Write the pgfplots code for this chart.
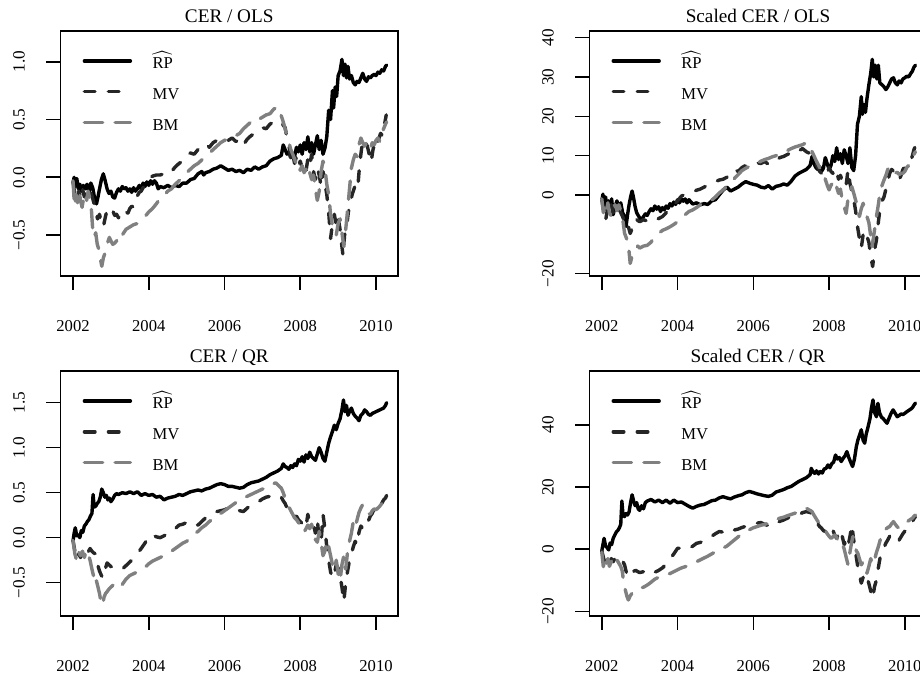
\documentclass[border=0pt]{standalone}
\usepackage{fontspec}
\setmainfont{Liberation Serif}
\setmathrm{Liberation Serif}
\usepackage{pgfplots}
\pgfplotsset{compat=1.18}
\definecolor{mvc}{gray}{0.15}
\definecolor{bmc}{gray}{0.5}
\pgfplotsset{
  panel/.style={
    scale only axis, width=168.75pt, height=122.5pt,
    xmin=2001.67, xmax=2010.58,
    xtick={2002,2004,2006,2008,2010},
    xticklabels={2002,2004,2006,2008,2010},
    xtick pos=bottom, ytick pos=left,
    tick align=outside, major tick length=7pt,
    axis line style={line width=0.8pt},
    tick style={black, line width=0.8pt},
    xticklabel style={font=\fontsize{8.3}{10}\selectfont, anchor=base},
    xticklabel shift=20.9pt,
    yticklabel style={font=\fontsize{8.6}{10}\selectfont, rotate=90, anchor=base},
    yticklabel shift=10.9pt,
    title style={font=\fontsize{9.6}{11}\selectfont, at={(0.5,1)}, anchor=base, yshift=-1.8pt},
    legend style={at={(0.0658,0.9155)}, anchor=north west, draw=none, fill=none,
      inner sep=0pt, outer sep=0pt, column sep=10.2pt, row sep=6.1pt,
      font=\fontsize{8.3}{10}\selectfont,
      nodes={inner sep=0pt, text height=8.5pt, text depth=0.8pt}},
    legend cell align=left,
    legend image code/.code={\draw[##1] (0pt,0pt) -- (23pt,0pt);},
  },
  rp/.style={black, line width=1.7pt, line join=round, line cap=round},
  mv/.style={mvc, line width=1.7pt, line join=round, line cap=round, dash pattern=on 5.3pt off 6.7pt},
  bm/.style={bmc, line width=1.7pt, line join=round, line cap=round, dash pattern=on 9.15pt off 6.2pt},
}
\begin{document}
\begin{tikzpicture}
% ---------------- Panel 1: CER / OLS ----------------
\begin{axis}[panel, at={(30.25pt,201pt)}, anchor=south west,
  title={CER / OLS}, ymin=-0.854, ymax=1.266,
  ytick={-0.5,0,0.5,1}, yticklabels={−0.5,0.0,0.5,1.0}]
\addplot[rp] coordinates {(2002.00,-0.05) (2002.03,0.00) (2002.06,-0.08) (2002.10,-0.01) (2002.14,-0.10) (2002.18,-0.06) (2002.22,-0.12) (2002.27,-0.07) (2002.32,-0.10) (2002.37,-0.06) (2002.42,-0.13) (2002.47,-0.05) (2002.52,-0.09) (2002.57,-0.18) (2002.62,-0.23) (2002.66,-0.17) (2002.70,-0.10) (2002.75,-0.02) (2002.80,0.03) (2002.85,-0.03) (2002.90,-0.10) (2002.95,-0.14) (2003.00,-0.12) (2003.05,-0.17) (2003.10,-0.18) (2003.15,-0.13) (2003.20,-0.10) (2003.25,-0.12) (2003.30,-0.08) (2003.35,-0.10) (2003.40,-0.09) (2003.45,-0.12) (2003.50,-0.10) (2003.55,-0.13) (2003.60,-0.09) (2003.65,-0.12) (2003.70,-0.10) (2003.75,-0.07) (2003.80,-0.10) (2003.85,-0.05) (2003.90,-0.08) (2003.95,-0.04) (2004.00,-0.07) (2004.05,-0.03) (2004.10,-0.06) (2004.15,-0.03) (2004.20,-0.05) (2004.25,-0.10) (2004.30,-0.08) (2004.40,-0.09) (2004.50,-0.07) (2004.60,-0.09) (2004.70,-0.07) (2004.80,-0.08) (2004.90,-0.05) (2005.00,-0.05) (2005.10,-0.02) (2005.20,-0.01) (2005.30,0.03) (2005.40,0.05) (2005.45,0.02) (2005.50,0.04) (2005.60,0.05) (2005.70,0.07) (2005.80,0.08) (2005.90,0.10) (2006.00,0.08) (2006.10,0.06) (2006.20,0.07) (2006.30,0.05) (2006.40,0.06) (2006.50,0.04) (2006.60,0.07) (2006.70,0.06) (2006.80,0.09) (2006.90,0.07) (2007.00,0.09) (2007.10,0.10) (2007.20,0.14) (2007.30,0.16) (2007.40,0.17) (2007.50,0.19) (2007.55,0.28) (2007.60,0.24) (2007.65,0.20) (2007.70,0.22) (2007.75,0.17) (2007.80,0.21) (2007.85,0.18) (2007.90,0.26) (2007.95,0.22) (2008.00,0.28) (2008.05,0.20) (2008.10,0.30) (2008.15,0.24) (2008.20,0.35) (2008.25,0.22) (2008.30,0.30) (2008.35,0.20) (2008.40,0.28) (2008.45,0.36) (2008.50,0.24) (2008.55,0.32) (2008.60,0.20) (2008.65,0.25) (2008.70,0.35) (2008.75,0.58) (2008.80,0.50) (2008.85,0.75) (2008.88,0.60) (2008.92,0.78) (2008.96,0.70) (2009.00,0.88) (2009.05,0.92) (2009.10,1.02) (2009.14,0.88) (2009.18,0.98) (2009.22,0.86) (2009.26,0.96) (2009.30,0.85) (2009.35,0.88) (2009.40,0.82) (2009.45,0.80) (2009.50,0.83) (2009.55,0.82) (2009.60,0.86) (2009.65,0.90) (2009.70,0.85) (2009.75,0.83) (2009.80,0.87) (2009.85,0.86) (2009.90,0.88) (2009.95,0.89) (2010.00,0.88) (2010.05,0.91) (2010.10,0.90) (2010.15,0.93) (2010.20,0.92) (2010.25,0.96) (2010.28,0.97)};
\addplot[mv] coordinates {(2002.00,-0.04) (2002.05,-0.15) (2002.10,-0.21) (2002.15,-0.12) (2002.20,-0.18) (2002.25,-0.10) (2002.30,-0.17) (2002.35,-0.12) (2002.40,-0.14) (2002.45,-0.11) (2002.50,-0.16) (2002.55,-0.22) (2002.60,-0.30) (2002.65,-0.36) (2002.70,-0.32) (2002.75,-0.40) (2002.80,-0.43) (2002.85,-0.35) (2002.90,-0.28) (2002.95,-0.30) (2003.00,-0.31) (2003.05,-0.29) (2003.10,-0.33) (2003.15,-0.32) (2003.20,-0.35) (2003.25,-0.34) (2003.30,-0.36) (2003.35,-0.32) (2003.40,-0.30) (2003.45,-0.31) (2003.50,-0.27) (2003.55,-0.25) (2003.60,-0.26) (2003.65,-0.20) (2003.70,-0.16) (2003.75,-0.13) (2003.80,-0.12) (2003.85,-0.09) (2003.90,-0.07) (2003.95,-0.05) (2004.00,-0.02) (2004.10,0.01) (2004.20,0.02) (2004.30,0.02) (2004.40,0.03) (2004.50,0.06) (2004.60,0.05) (2004.70,0.09) (2004.80,0.12) (2004.90,0.14) (2005.00,0.19) (2005.10,0.21) (2005.20,0.20) (2005.30,0.24) (2005.40,0.27) (2005.50,0.29) (2005.60,0.26) (2005.70,0.30) (2005.80,0.32) (2005.90,0.31) (2006.00,0.33) (2006.10,0.32) (2006.20,0.34) (2006.30,0.31) (2006.40,0.33) (2006.50,0.28) (2006.60,0.33) (2006.70,0.36) (2006.80,0.38) (2006.90,0.40) (2007.00,0.43) (2007.10,0.42) (2007.20,0.46) (2007.30,0.48) (2007.40,0.47) (2007.50,0.48) (2007.55,0.45) (2007.60,0.43) (2007.65,0.34) (2007.70,0.28) (2007.75,0.15) (2007.80,0.20) (2007.85,0.12) (2007.90,0.18) (2007.95,0.10) (2008.00,0.14) (2008.05,0.08) (2008.10,0.12) (2008.15,0.05) (2008.20,0.16) (2008.25,0.10) (2008.30,0.20) (2008.35,0.05) (2008.40,-0.02) (2008.45,0.08) (2008.50,0.02) (2008.55,-0.08) (2008.60,0.05) (2008.65,-0.05) (2008.70,-0.15) (2008.75,-0.30) (2008.80,-0.53) (2008.85,-0.40) (2008.90,-0.32) (2008.95,-0.42) (2009.00,-0.35) (2009.05,-0.45) (2009.10,-0.60) (2009.13,-0.68) (2009.17,-0.50) (2009.22,-0.44) (2009.27,-0.30) (2009.32,-0.22) (2009.37,-0.15) (2009.42,-0.10) (2009.47,-0.05) (2009.52,-0.08) (2009.57,0.12) (2009.62,0.25) (2009.67,0.33) (2009.72,0.30) (2009.77,0.27) (2009.82,0.20) (2009.87,0.13) (2009.92,0.24) (2009.97,0.30) (2010.02,0.27) (2010.07,0.33) (2010.12,0.38) (2010.17,0.36) (2010.22,0.45) (2010.27,0.54)};
\addplot[bm] coordinates {(2002.00,-0.03) (2002.04,-0.25) (2002.08,-0.15) (2002.12,-0.22) (2002.16,-0.12) (2002.20,-0.20) (2002.24,-0.26) (2002.28,-0.18) (2002.32,-0.14) (2002.36,-0.20) (2002.40,-0.12) (2002.44,-0.18) (2002.48,-0.25) (2002.52,-0.45) (2002.56,-0.52) (2002.60,-0.48) (2002.64,-0.58) (2002.68,-0.62) (2002.72,-0.70) (2002.76,-0.77) (2002.80,-0.70) (2002.84,-0.66) (2002.88,-0.60) (2002.92,-0.56) (2002.96,-0.52) (2003.00,-0.55) (2003.05,-0.58) (2003.10,-0.57) (2003.15,-0.55) (2003.20,-0.52) (2003.25,-0.54) (2003.30,-0.50) (2003.40,-0.45) (2003.50,-0.43) (2003.60,-0.41) (2003.70,-0.40) (2003.80,-0.37) (2003.90,-0.34) (2004.00,-0.30) (2004.10,-0.27) (2004.20,-0.23) (2004.30,-0.18) (2004.40,-0.16) (2004.50,-0.12) (2004.60,-0.10) (2004.70,-0.06) (2004.80,-0.03) (2004.90,0.00) (2005.00,0.04) (2005.10,0.07) (2005.20,0.10) (2005.30,0.12) (2005.40,0.15) (2005.50,0.18) (2005.60,0.21) (2005.70,0.24) (2005.80,0.27) (2005.90,0.30) (2006.00,0.32) (2006.10,0.33) (2006.20,0.34) (2006.30,0.36) (2006.40,0.38) (2006.50,0.42) (2006.60,0.45) (2006.70,0.48) (2006.80,0.47) (2006.90,0.50) (2007.00,0.52) (2007.10,0.54) (2007.20,0.55) (2007.30,0.59) (2007.35,0.60) (2007.40,0.56) (2007.45,0.57) (2007.50,0.53) (2007.55,0.48) (2007.60,0.42) (2007.65,0.36) (2007.70,0.30) (2007.75,0.24) (2007.80,0.20) (2007.85,0.16) (2007.90,0.10) (2007.95,0.12) (2008.00,0.06) (2008.05,0.10) (2008.10,0.04) (2008.15,0.07) (2008.20,0.00) (2008.25,0.04) (2008.30,-0.02) (2008.35,0.02) (2008.40,-0.10) (2008.45,-0.20) (2008.50,-0.12) (2008.55,0.05) (2008.60,0.14) (2008.65,0.08) (2008.70,-0.06) (2008.75,-0.15) (2008.80,-0.32) (2008.85,-0.42) (2008.90,-0.45) (2008.95,-0.50) (2009.00,-0.40) (2009.05,-0.36) (2009.10,-0.48) (2009.15,-0.60) (2009.20,-0.45) (2009.25,-0.28) (2009.30,-0.10) (2009.35,0.08) (2009.40,0.15) (2009.45,0.20) (2009.50,0.18) (2009.55,0.28) (2009.60,0.34) (2009.65,0.30) (2009.70,0.27) (2009.75,0.30) (2009.80,0.26) (2009.85,0.24) (2009.90,0.30) (2009.95,0.28) (2010.00,0.32) (2010.05,0.34) (2010.10,0.31) (2010.15,0.37) (2010.20,0.42) (2010.25,0.46) (2010.28,0.48)};
\legend{$\widehat{\mathrm{RP}}$,MV,BM}
\end{axis}
% ---------------- Panel 2: Scaled CER / OLS ----------------
\begin{axis}[panel, at={(294.65pt,201pt)}, anchor=south west,
  title={Scaled CER / OLS}, ymin=-20.6, ymax=41.7,
  ytick={-20,0,10,20,30,40}, yticklabels={−20,0,10,20,30,40}]
\addplot[rp] coordinates {(2002.00,-1.5) (2002.03,0.2) (2002.06,-2.5) (2002.10,-0.5) (2002.14,-4.0) (2002.18,-1.5) (2002.22,-3.0) (2002.26,-1.0) (2002.30,-5.0) (2002.35,-3.0) (2002.40,-1.5) (2002.45,-3.5) (2002.50,-2.0) (2002.55,-4.5) (2002.60,-5.5) (2002.64,-8.0) (2002.68,-5.0) (2002.72,-2.5) (2002.76,-0.5) (2002.80,1.0) (2002.84,-0.8) (2002.88,-3.0) (2002.92,-4.5) (2002.96,-5.2) (2003.00,-5.8) (2003.05,-6.3) (2003.10,-5.5) (2003.15,-4.8) (2003.20,-5.2) (2003.25,-4.2) (2003.30,-3.5) (2003.35,-4.0) (2003.40,-2.8) (2003.45,-3.6) (2003.50,-3.0) (2003.55,-4.2) (2003.60,-3.2) (2003.65,-3.8) (2003.70,-2.8) (2003.75,-3.4) (2003.80,-2.2) (2003.85,-2.8) (2003.90,-1.8) (2003.95,-2.4) (2004.00,-1.2) (2004.05,-2.0) (2004.10,-1.0) (2004.15,-1.6) (2004.20,-1.0) (2004.25,-2.0) (2004.30,-1.2) (2004.40,-2.3) (2004.50,-2.0) (2004.60,-2.5) (2004.70,-2.2) (2004.80,-2.4) (2004.90,-1.5) (2005.00,-1.2) (2005.10,0.0) (2005.20,1.2) (2005.30,2.0) (2005.40,1.0) (2005.50,1.5) (2005.60,2.0) (2005.70,2.8) (2005.80,3.4) (2005.90,3.0) (2006.00,2.7) (2006.10,2.5) (2006.20,2.0) (2006.30,1.8) (2006.40,2.4) (2006.50,1.5) (2006.60,2.2) (2006.70,2.4) (2006.80,2.8) (2006.90,2.5) (2007.00,3.5) (2007.10,4.8) (2007.20,5.5) (2007.30,6.0) (2007.40,6.5) (2007.50,7.5) (2007.55,9.8) (2007.60,8.0) (2007.65,7.0) (2007.70,6.5) (2007.75,7.2) (2007.80,6.0) (2007.85,6.8) (2007.90,9.5) (2007.95,8.0) (2008.00,6.5) (2008.05,7.5) (2008.10,10.0) (2008.15,8.5) (2008.20,12.0) (2008.25,9.0) (2008.30,10.5) (2008.35,8.0) (2008.40,11.5) (2008.45,10.0) (2008.50,8.0) (2008.55,12.0) (2008.60,7.0) (2008.65,6.2) (2008.70,10.0) (2008.75,18.0) (2008.80,20.0) (2008.85,25.0) (2008.88,20.5) (2008.92,23.0) (2008.96,21.0) (2009.00,24.5) (2009.05,28.0) (2009.10,31.0) (2009.14,34.5) (2009.18,30.0) (2009.22,33.0) (2009.26,29.5) (2009.30,33.0) (2009.34,28.5) (2009.40,28.0) (2009.45,27.5) (2009.50,26.8) (2009.55,27.5) (2009.60,28.5) (2009.65,29.5) (2009.70,29.8) (2009.75,28.5) (2009.80,28.0) (2009.85,29.0) (2009.90,28.5) (2009.95,29.5) (2010.00,29.8) (2010.05,30.2) (2010.10,30.0) (2010.15,30.8) (2010.20,31.5) (2010.24,32.5) (2010.28,33.0)};
\addplot[mv] coordinates {(2002.00,-1.0) (2002.05,-4.5) (2002.10,-6.5) (2002.15,-3.5) (2002.20,-5.0) (2002.25,-2.5) (2002.30,-4.5) (2002.35,-3.0) (2002.40,-4.0) (2002.45,-3.5) (2002.50,-4.5) (2002.55,-5.5) (2002.60,-7.0) (2002.65,-8.5) (2002.70,-8.0) (2002.75,-9.8) (2002.80,-8.5) (2002.85,-7.0) (2002.90,-6.0) (2002.95,-6.5) (2003.00,-6.8) (2003.10,-6.3) (2003.20,-6.6) (2003.30,-7.0) (2003.40,-6.5) (2003.50,-6.0) (2003.60,-5.5) (2003.70,-4.5) (2003.80,-3.5) (2003.90,-2.5) (2004.00,-1.5) (2004.10,-0.3) (2004.20,0.2) (2004.30,0.5) (2004.40,0.8) (2004.50,1.2) (2004.60,1.5) (2004.70,2.0) (2004.80,2.5) (2004.90,3.0) (2005.00,3.4) (2005.10,3.8) (2005.20,4.0) (2005.30,4.5) (2005.40,5.8) (2005.50,6.5) (2005.60,6.0) (2005.70,7.0) (2005.80,7.5) (2005.90,7.8) (2006.00,8.0) (2006.10,8.2) (2006.20,8.0) (2006.30,8.5) (2006.40,7.8) (2006.50,8.1) (2006.60,8.8) (2006.70,9.5) (2006.80,9.8) (2006.90,10.3) (2007.00,10.8) (2007.10,11.5) (2007.20,11.2) (2007.30,11.8) (2007.40,11.0) (2007.50,10.5) (2007.55,10.0) (2007.60,9.0) (2007.65,8.0) (2007.70,7.0) (2007.75,6.0) (2007.80,5.5) (2007.85,5.8) (2007.90,6.5) (2007.95,5.5) (2008.00,7.0) (2008.05,6.0) (2008.10,5.5) (2008.15,6.8) (2008.20,6.0) (2008.25,4.0) (2008.30,5.0) (2008.35,3.5) (2008.40,2.0) (2008.45,2.5) (2008.50,6.4) (2008.55,3.0) (2008.60,1.0) (2008.65,-1.0) (2008.70,-4.0) (2008.75,-8.0) (2008.80,-11.0) (2008.85,-13.5) (2008.90,-10.0) (2008.95,-9.0) (2009.00,-10.5) (2009.05,-12.0) (2009.10,-15.5) (2009.15,-18.2) (2009.20,-14.0) (2009.25,-11.5) (2009.30,-7.0) (2009.35,-3.0) (2009.40,-1.5) (2009.45,-0.5) (2009.50,1.5) (2009.55,3.5) (2009.60,5.5) (2009.65,6.5) (2009.70,6.0) (2009.75,5.0) (2009.80,4.5) (2009.85,3.8) (2009.90,5.0) (2009.95,6.5) (2010.00,7.2) (2010.05,7.5) (2010.10,8.0) (2010.15,8.5) (2010.20,10.0) (2010.24,11.5) (2010.28,12.5)};
\addplot[bm] coordinates {(2002.00,-1.0) (2002.04,-4.5) (2002.08,-2.5) (2002.12,-4.0) (2002.16,-2.0) (2002.20,-4.5) (2002.25,-5.5) (2002.30,-3.5) (2002.35,-2.5) (2002.40,-4.0) (2002.45,-2.5) (2002.50,-4.0) (2002.55,-6.0) (2002.60,-9.7) (2002.65,-11.0) (2002.70,-12.5) (2002.75,-17.4) (2002.80,-15.5) (2002.85,-14.5) (2002.90,-13.5) (2002.95,-13.0) (2003.00,-13.5) (2003.10,-13.0) (2003.20,-12.8) (2003.30,-12.0) (2003.40,-10.5) (2003.50,-9.8) (2003.60,-9.0) (2003.70,-8.6) (2003.80,-8.1) (2003.90,-7.5) (2004.00,-6.8) (2004.10,-6.0) (2004.20,-5.0) (2004.30,-4.2) (2004.40,-3.8) (2004.50,-3.2) (2004.60,-2.5) (2004.70,-2.0) (2004.80,-1.7) (2004.90,-1.3) (2005.00,-0.5) (2005.10,0.5) (2005.20,1.3) (2005.30,2.2) (2005.40,3.2) (2005.50,4.2) (2005.60,5.2) (2005.70,6.2) (2005.80,6.8) (2005.90,7.3) (2006.00,7.6) (2006.10,8.0) (2006.20,8.6) (2006.30,9.0) (2006.40,9.3) (2006.50,9.7) (2006.60,10.0) (2006.70,10.5) (2006.80,10.8) (2006.90,11.3) (2007.00,11.8) (2007.10,12.2) (2007.20,12.5) (2007.30,12.8) (2007.40,13.3) (2007.45,13.0) (2007.50,11.8) (2007.55,11.0) (2007.60,10.0) (2007.65,8.9) (2007.70,8.0) (2007.75,7.0) (2007.80,6.5) (2007.85,5.5) (2007.90,4.0) (2007.95,2.5) (2008.00,1.3) (2008.05,2.5) (2008.10,3.0) (2008.15,3.8) (2008.20,2.0) (2008.25,0.4) (2008.30,1.5) (2008.35,-1.5) (2008.40,-3.0) (2008.45,-4.7) (2008.50,-1.0) (2008.55,1.0) (2008.60,2.1) (2008.65,0.5) (2008.70,-1.3) (2008.75,-3.0) (2008.80,-5.5) (2008.85,-3.5) (2008.90,-2.1) (2008.95,-4.0) (2009.00,-5.5) (2009.05,-7.0) (2009.10,-10.5) (2009.13,-13.2) (2009.17,-11.0) (2009.20,-8.9) (2009.25,-5.5) (2009.30,-2.5) (2009.35,1.0) (2009.40,2.5) (2009.45,3.8) (2009.50,5.0) (2009.55,6.5) (2009.60,7.2) (2009.65,6.8) (2009.70,6.0) (2009.75,5.5) (2009.80,5.8) (2009.85,5.2) (2009.90,5.5) (2009.95,5.5) (2010.00,6.0) (2010.05,7.0) (2010.10,7.5) (2010.15,8.2) (2010.20,9.5) (2010.25,10.5) (2010.28,11.0)};
\legend{$\widehat{\mathrm{RP}}$,MV,BM}
\end{axis}
% ---------------- Panel 3: CER / QR ----------------
\begin{axis}[panel, at={(30.25pt,31pt)}, anchor=south west,
  title={CER / QR}, ymin=-0.870, ymax=1.852,
  ytick={-0.5,0,0.5,1,1.5}, yticklabels={−0.5,0.0,0.5,1.0,1.5}]
\addplot[rp] coordinates {(2002.00,-0.04) (2002.03,0.05) (2002.06,0.11) (2002.10,0.02) (2002.14,0.03) (2002.18,0.00) (2002.22,0.08) (2002.26,0.06) (2002.30,0.13) (2002.34,0.15) (2002.38,0.18) (2002.42,0.20) (2002.46,0.24) (2002.50,0.27) (2002.53,0.48) (2002.56,0.34) (2002.60,0.35) (2002.64,0.38) (2002.68,0.40) (2002.72,0.45) (2002.76,0.54) (2002.80,0.50) (2002.84,0.45) (2002.88,0.47) (2002.92,0.42) (2002.96,0.44) (2003.00,0.40) (2003.05,0.43) (2003.10,0.47) (2003.15,0.49) (2003.20,0.48) (2003.30,0.50) (2003.40,0.49) (2003.50,0.51) (2003.60,0.49) (2003.70,0.51) (2003.80,0.47) (2003.90,0.49) (2004.00,0.47) (2004.10,0.48) (2004.20,0.45) (2004.30,0.46) (2004.40,0.42) (2004.50,0.44) (2004.60,0.45) (2004.70,0.46) (2004.80,0.48) (2004.90,0.47) (2005.00,0.49) (2005.10,0.51) (2005.20,0.52) (2005.30,0.53) (2005.40,0.52) (2005.50,0.54) (2005.60,0.55) (2005.70,0.57) (2005.80,0.59) (2005.90,0.60) (2006.00,0.59) (2006.10,0.57) (2006.20,0.57) (2006.30,0.56) (2006.40,0.55) (2006.50,0.56) (2006.60,0.59) (2006.70,0.61) (2006.80,0.62) (2006.90,0.63) (2007.00,0.65) (2007.10,0.67) (2007.20,0.70) (2007.30,0.72) (2007.40,0.74) (2007.50,0.77) (2007.55,0.82) (2007.60,0.79) (2007.65,0.78) (2007.70,0.76) (2007.75,0.80) (2007.80,0.78) (2007.85,0.82) (2007.90,0.80) (2007.95,0.87) (2008.00,0.85) (2008.05,0.90) (2008.10,0.84) (2008.15,0.92) (2008.20,0.88) (2008.25,0.95) (2008.30,0.90) (2008.35,0.88) (2008.40,0.86) (2008.45,0.93) (2008.50,1.00) (2008.55,0.95) (2008.60,0.88) (2008.65,0.85) (2008.70,0.95) (2008.75,1.05) (2008.80,1.12) (2008.85,1.18) (2008.90,1.25) (2008.95,1.20) (2009.00,1.27) (2009.05,1.32) (2009.10,1.42) (2009.14,1.53) (2009.18,1.40) (2009.22,1.47) (2009.26,1.36) (2009.30,1.40) (2009.35,1.44) (2009.40,1.38) (2009.45,1.35) (2009.50,1.33) (2009.55,1.30) (2009.60,1.36) (2009.65,1.38) (2009.70,1.42) (2009.75,1.40) (2009.80,1.37) (2009.85,1.36) (2009.90,1.38) (2009.95,1.39) (2010.00,1.40) (2010.05,1.41) (2010.10,1.42) (2010.15,1.43) (2010.20,1.44) (2010.25,1.47) (2010.28,1.50)};
\addplot[mv] coordinates {(2002.00,-0.03) (2002.05,-0.15) (2002.10,-0.24) (2002.15,-0.18) (2002.20,-0.22) (2002.25,-0.16) (2002.30,-0.20) (2002.35,-0.14) (2002.40,-0.16) (2002.45,-0.12) (2002.50,-0.15) (2002.55,-0.17) (2002.60,-0.18) (2002.65,-0.30) (2002.70,-0.37) (2002.75,-0.42) (2002.80,-0.45) (2002.85,-0.35) (2002.90,-0.28) (2002.95,-0.30) (2003.00,-0.32) (2003.10,-0.34) (2003.20,-0.33) (2003.30,-0.35) (2003.40,-0.31) (2003.50,-0.27) (2003.60,-0.23) (2003.70,-0.18) (2003.80,-0.12) (2003.90,-0.06) (2004.00,0.02) (2004.10,0.03) (2004.20,0.01) (2004.30,0.00) (2004.40,0.02) (2004.50,0.05) (2004.60,0.07) (2004.70,0.10) (2004.80,0.14) (2004.90,0.15) (2005.00,0.17) (2005.10,0.18) (2005.20,0.15) (2005.30,0.14) (2005.40,0.18) (2005.50,0.22) (2005.60,0.25) (2005.70,0.27) (2005.80,0.29) (2005.90,0.30) (2006.00,0.31) (2006.10,0.33) (2006.20,0.34) (2006.30,0.32) (2006.40,0.30) (2006.50,0.29) (2006.60,0.33) (2006.70,0.36) (2006.80,0.39) (2006.90,0.40) (2007.00,0.43) (2007.10,0.45) (2007.20,0.46) (2007.30,0.48) (2007.40,0.47) (2007.50,0.45) (2007.55,0.41) (2007.60,0.38) (2007.65,0.33) (2007.70,0.29) (2007.75,0.27) (2007.80,0.25) (2007.85,0.23) (2007.90,0.24) (2007.95,0.20) (2008.00,0.18) (2008.05,0.16) (2008.10,0.17) (2008.15,0.12) (2008.20,0.26) (2008.25,0.15) (2008.30,0.13) (2008.35,0.14) (2008.40,0.05) (2008.45,0.20) (2008.50,-0.02) (2008.55,-0.05) (2008.60,0.26) (2008.65,0.10) (2008.70,-0.10) (2008.75,-0.25) (2008.80,-0.38) (2008.85,-0.45) (2008.90,-0.40) (2008.95,-0.30) (2009.00,-0.34) (2009.05,-0.42) (2009.10,-0.55) (2009.15,-0.71) (2009.20,-0.50) (2009.25,-0.37) (2009.30,-0.25) (2009.35,-0.18) (2009.40,-0.10) (2009.45,-0.04) (2009.50,-0.08) (2009.55,0.06) (2009.60,0.13) (2009.65,0.10) (2009.70,0.16) (2009.75,0.20) (2009.80,0.19) (2009.85,0.24) (2009.90,0.27) (2009.95,0.32) (2010.00,0.30) (2010.05,0.34) (2010.10,0.36) (2010.15,0.38) (2010.20,0.42) (2010.25,0.44) (2010.28,0.47)};
\addplot[bm] coordinates {(2002.00,-0.03) (2002.05,-0.18) (2002.10,-0.26) (2002.15,-0.16) (2002.20,-0.20) (2002.25,-0.15) (2002.30,-0.22) (2002.35,-0.14) (2002.40,-0.18) (2002.45,-0.25) (2002.50,-0.35) (2002.54,-0.42) (2002.58,-0.52) (2002.62,-0.48) (2002.66,-0.55) (2002.70,-0.62) (2002.74,-0.72) (2002.78,-0.75) (2002.82,-0.66) (2002.86,-0.62) (2002.90,-0.60) (2002.95,-0.57) (2003.00,-0.55) (2003.05,-0.53) (2003.10,-0.52) (2003.15,-0.55) (2003.20,-0.56) (2003.30,-0.52) (2003.40,-0.46) (2003.50,-0.42) (2003.60,-0.40) (2003.70,-0.38) (2003.80,-0.36) (2003.90,-0.33) (2004.00,-0.29) (2004.10,-0.26) (2004.20,-0.24) (2004.30,-0.22) (2004.40,-0.20) (2004.50,-0.17) (2004.60,-0.15) (2004.70,-0.12) (2004.80,-0.09) (2004.90,-0.06) (2005.00,-0.04) (2005.10,0.00) (2005.20,0.04) (2005.30,0.07) (2005.40,0.11) (2005.50,0.14) (2005.60,0.18) (2005.70,0.21) (2005.80,0.24) (2005.90,0.27) (2006.00,0.30) (2006.10,0.33) (2006.20,0.36) (2006.30,0.39) (2006.40,0.42) (2006.50,0.44) (2006.60,0.46) (2006.70,0.48) (2006.80,0.50) (2006.90,0.52) (2007.00,0.54) (2007.10,0.55) (2007.20,0.57) (2007.30,0.60) (2007.35,0.61) (2007.40,0.59) (2007.45,0.57) (2007.50,0.55) (2007.55,0.50) (2007.60,0.44) (2007.65,0.39) (2007.70,0.34) (2007.75,0.30) (2007.80,0.26) (2007.85,0.22) (2007.90,0.20) (2007.95,0.17) (2008.00,0.12) (2008.05,0.08) (2008.10,0.06) (2008.15,0.10) (2008.20,0.14) (2008.25,0.10) (2008.30,0.15) (2008.35,0.05) (2008.40,-0.02) (2008.45,-0.05) (2008.50,0.07) (2008.55,-0.05) (2008.60,-0.20) (2008.65,-0.15) (2008.70,-0.03) (2008.75,-0.10) (2008.80,-0.20) (2008.85,-0.30) (2008.90,-0.36) (2008.95,-0.25) (2009.00,-0.40) (2009.05,-0.48) (2009.10,-0.30) (2009.15,-0.20) (2009.20,-0.35) (2009.25,-0.15) (2009.30,-0.04) (2009.35,0.05) (2009.40,0.18) (2009.45,0.12) (2009.50,0.20) (2009.55,0.28) (2009.60,0.33) (2009.65,0.37) (2009.70,0.33) (2009.75,0.30) (2009.80,0.27) (2009.85,0.26) (2009.90,0.30) (2009.95,0.32) (2010.00,0.31) (2010.05,0.33) (2010.10,0.35) (2010.15,0.38) (2010.20,0.42) (2010.25,0.45) (2010.28,0.47)};
\legend{$\widehat{\mathrm{RP}}$,MV,BM}
\end{axis}
% ---------------- Panel 4: Scaled CER / QR ----------------
\begin{axis}[panel, at={(294.65pt,31pt)}, anchor=south west,
  title={Scaled CER / QR}, ymin=-21.45, ymax=57.3,
  ytick={-20,0,20,40}, yticklabels={−20,0,20,40}]
\addplot[rp] coordinates {(2002.00,-0.5) (2002.03,1.5) (2002.06,3.5) (2002.10,1.0) (2002.14,0.5) (2002.18,-0.2) (2002.22,2.0) (2002.26,1.5) (2002.30,3.5) (2002.34,4.5) (2002.38,5.5) (2002.42,6.0) (2002.46,6.8) (2002.50,8.0) (2002.53,15.5) (2002.56,11.0) (2002.60,10.5) (2002.64,11.5) (2002.68,11.0) (2002.72,12.0) (2002.76,15.0) (2002.80,17.5) (2002.84,15.5) (2002.88,14.0) (2002.92,15.0) (2002.96,13.0) (2003.00,12.5) (2003.05,14.0) (2003.10,13.0) (2003.15,15.0) (2003.20,15.5) (2003.30,16.0) (2003.40,15.2) (2003.50,15.8) (2003.60,15.0) (2003.70,15.8) (2003.80,14.8) (2003.90,15.8) (2004.00,15.0) (2004.10,15.2) (2004.20,14.5) (2004.30,13.8) (2004.40,13.2) (2004.50,13.8) (2004.60,14.2) (2004.70,14.4) (2004.80,15.0) (2004.90,15.6) (2005.00,15.8) (2005.10,16.5) (2005.20,16.9) (2005.30,16.5) (2005.40,16.2) (2005.50,16.8) (2005.60,17.2) (2005.70,17.5) (2005.80,18.2) (2005.90,18.6) (2006.00,18.2) (2006.10,17.8) (2006.20,17.5) (2006.30,17.2) (2006.40,17.0) (2006.50,17.4) (2006.60,18.4) (2006.70,18.8) (2006.80,19.2) (2006.90,19.8) (2007.00,20.2) (2007.10,21.0) (2007.20,21.8) (2007.30,22.4) (2007.40,23.0) (2007.50,24.0) (2007.53,26.0) (2007.57,25.0) (2007.62,24.4) (2007.67,25.2) (2007.72,24.2) (2007.77,25.0) (2007.82,24.5) (2007.87,25.8) (2007.92,26.0) (2007.97,27.1) (2008.02,26.2) (2008.07,27.5) (2008.12,28.0) (2008.17,30.3) (2008.22,29.0) (2008.27,29.5) (2008.32,28.2) (2008.37,29.2) (2008.42,30.0) (2008.47,31.4) (2008.52,29.5) (2008.57,28.0) (2008.62,26.6) (2008.67,29.0) (2008.72,33.0) (2008.76,35.1) (2008.80,36.5) (2008.85,38.4) (2008.90,35.0) (2008.94,34.1) (2008.98,37.0) (2009.03,39.4) (2009.08,42.0) (2009.12,45.5) (2009.16,48.0) (2009.20,44.0) (2009.25,42.6) (2009.29,46.9) (2009.33,44.0) (2009.38,42.5) (2009.43,42.0) (2009.48,41.2) (2009.53,40.5) (2009.58,42.0) (2009.63,43.5) (2009.69,44.8) (2009.74,43.8) (2009.80,42.6) (2009.85,43.0) (2009.90,43.5) (2009.95,43.3) (2010.00,43.7) (2010.05,44.2) (2010.10,44.6) (2010.15,45.0) (2010.20,45.5) (2010.24,46.3) (2010.28,47.0)};
\addplot[mv] coordinates {(2002.00,-0.5) (2002.05,-3.0) (2002.10,-5.0) (2002.15,-3.5) (2002.20,-4.5) (2002.25,-3.0) (2002.30,-4.0) (2002.35,-2.8) (2002.40,-3.5) (2002.45,-2.8) (2002.50,-3.2) (2002.55,-3.8) (2002.60,-5.0) (2002.65,-7.5) (2002.70,-8.0) (2002.75,-9.0) (2002.80,-8.2) (2002.85,-7.0) (2002.90,-6.8) (2002.95,-7.2) (2003.00,-7.5) (2003.10,-7.2) (2003.20,-7.8) (2003.30,-8.2) (2003.40,-7.4) (2003.50,-6.8) (2003.60,-6.0) (2003.70,-4.8) (2003.80,-3.2) (2003.90,-1.5) (2004.00,0.3) (2004.10,0.4) (2004.20,0.0) (2004.30,0.2) (2004.40,1.0) (2004.50,1.9) (2004.60,2.2) (2004.70,2.8) (2004.80,3.5) (2004.90,4.2) (2005.00,5.0) (2005.10,5.7) (2005.20,5.5) (2005.30,5.0) (2005.40,5.6) (2005.50,6.2) (2005.60,6.5) (2005.70,7.0) (2005.80,7.4) (2005.90,7.8) (2006.00,8.1) (2006.10,8.4) (2006.20,8.6) (2006.30,8.0) (2006.40,7.6) (2006.50,7.3) (2006.60,8.2) (2006.70,9.0) (2006.80,9.4) (2006.90,10.0) (2007.00,10.5) (2007.10,10.8) (2007.20,11.0) (2007.30,11.8) (2007.40,12.1) (2007.50,11.8) (2007.55,11.6) (2007.60,10.5) (2007.65,9.0) (2007.70,8.2) (2007.75,7.3) (2007.80,6.8) (2007.85,6.0) (2007.90,5.7) (2007.95,5.0) (2008.00,4.5) (2008.05,6.0) (2008.10,6.2) (2008.15,4.5) (2008.20,3.5) (2008.25,5.0) (2008.30,6.2) (2008.35,4.0) (2008.40,1.5) (2008.45,3.0) (2008.50,1.0) (2008.55,4.0) (2008.60,7.8) (2008.65,3.0) (2008.70,-1.0) (2008.75,-5.0) (2008.80,-8.0) (2008.85,-10.9) (2008.90,-9.0) (2008.95,-7.7) (2009.00,-9.0) (2009.05,-11.0) (2009.10,-13.5) (2009.15,-15.8) (2009.20,-12.0) (2009.25,-9.9) (2009.30,-6.0) (2009.35,-2.5) (2009.40,-1.3) (2009.45,0.5) (2009.50,2.0) (2009.55,3.0) (2009.60,4.2) (2009.65,5.1) (2009.70,4.8) (2009.75,4.0) (2009.80,3.5) (2009.85,3.0) (2009.90,4.0) (2009.95,5.0) (2010.00,5.8) (2010.05,6.2) (2010.10,7.0) (2010.15,7.8) (2010.20,8.8) (2010.24,9.8) (2010.28,10.5)};
\addplot[bm] coordinates {(2002.00,-1.0) (2002.04,-5.6) (2002.08,-3.0) (2002.12,-5.0) (2002.16,-3.0) (2002.20,-5.5) (2002.25,-4.0) (2002.30,-3.0) (2002.35,-4.5) (2002.40,-3.4) (2002.45,-4.5) (2002.50,-5.5) (2002.54,-7.0) (2002.58,-10.9) (2002.62,-13.0) (2002.66,-15.0) (2002.70,-16.3) (2002.75,-15.0) (2002.80,-14.1) (2002.85,-13.5) (2002.90,-13.1) (2003.00,-12.5) (2003.10,-12.2) (2003.20,-11.5) (2003.30,-10.6) (2003.40,-9.6) (2003.50,-9.0) (2003.60,-8.6) (2003.70,-8.3) (2003.80,-7.8) (2003.90,-7.2) (2004.00,-6.6) (2004.10,-6.0) (2004.20,-5.6) (2004.30,-5.2) (2004.40,-4.6) (2004.50,-4.0) (2004.60,-3.4) (2004.70,-2.8) (2004.80,-2.2) (2004.90,-1.5) (2005.00,-0.8) (2005.10,-0.3) (2005.20,0.4) (2005.30,1.0) (2005.40,2.0) (2005.50,3.0) (2005.60,4.0) (2005.70,5.0) (2005.80,5.7) (2005.90,6.3) (2006.00,6.9) (2006.10,7.3) (2006.20,7.7) (2006.30,8.0) (2006.40,8.4) (2006.50,8.9) (2006.60,9.5) (2006.70,10.0) (2006.80,10.3) (2006.90,10.8) (2007.00,11.2) (2007.10,11.6) (2007.20,12.1) (2007.30,12.6) (2007.40,13.2) (2007.45,12.8) (2007.50,12.5) (2007.55,12.1) (2007.60,11.0) (2007.65,10.0) (2007.70,9.0) (2007.75,8.5) (2007.80,7.5) (2007.85,6.8) (2007.90,6.0) (2007.95,5.0) (2008.00,4.2) (2008.05,3.5) (2008.10,4.0) (2008.15,4.6) (2008.20,3.8) (2008.25,2.5) (2008.30,3.0) (2008.35,1.9) (2008.40,0.0) (2008.45,-2.5) (2008.50,-5.0) (2008.55,-1.0) (2008.60,2.5) (2008.63,4.1) (2008.67,1.5) (2008.72,-0.5) (2008.76,-1.3) (2008.80,-3.0) (2008.85,-5.0) (2008.90,-4.0) (2008.95,-6.0) (2009.00,-7.7) (2009.05,-5.5) (2009.10,-3.0) (2009.15,-5.0) (2009.20,-3.5) (2009.25,-1.0) (2009.30,0.8) (2009.35,3.0) (2009.40,5.1) (2009.45,5.8) (2009.50,6.5) (2009.55,7.0) (2009.60,7.3) (2009.65,8.2) (2009.70,8.9) (2009.75,8.0) (2009.80,7.2) (2009.85,6.8) (2009.90,7.5) (2009.95,8.0) (2010.00,8.3) (2010.05,8.7) (2010.10,9.2) (2010.15,9.6) (2010.20,10.0) (2010.24,10.6) (2010.28,11.0)};
\legend{$\widehat{\mathrm{RP}}$,MV,BM}
\end{axis}
\pgfresetboundingbox
\useasboundingbox (0pt,0pt) rectangle (460pt,339pt);
\end{tikzpicture}
\end{document}
